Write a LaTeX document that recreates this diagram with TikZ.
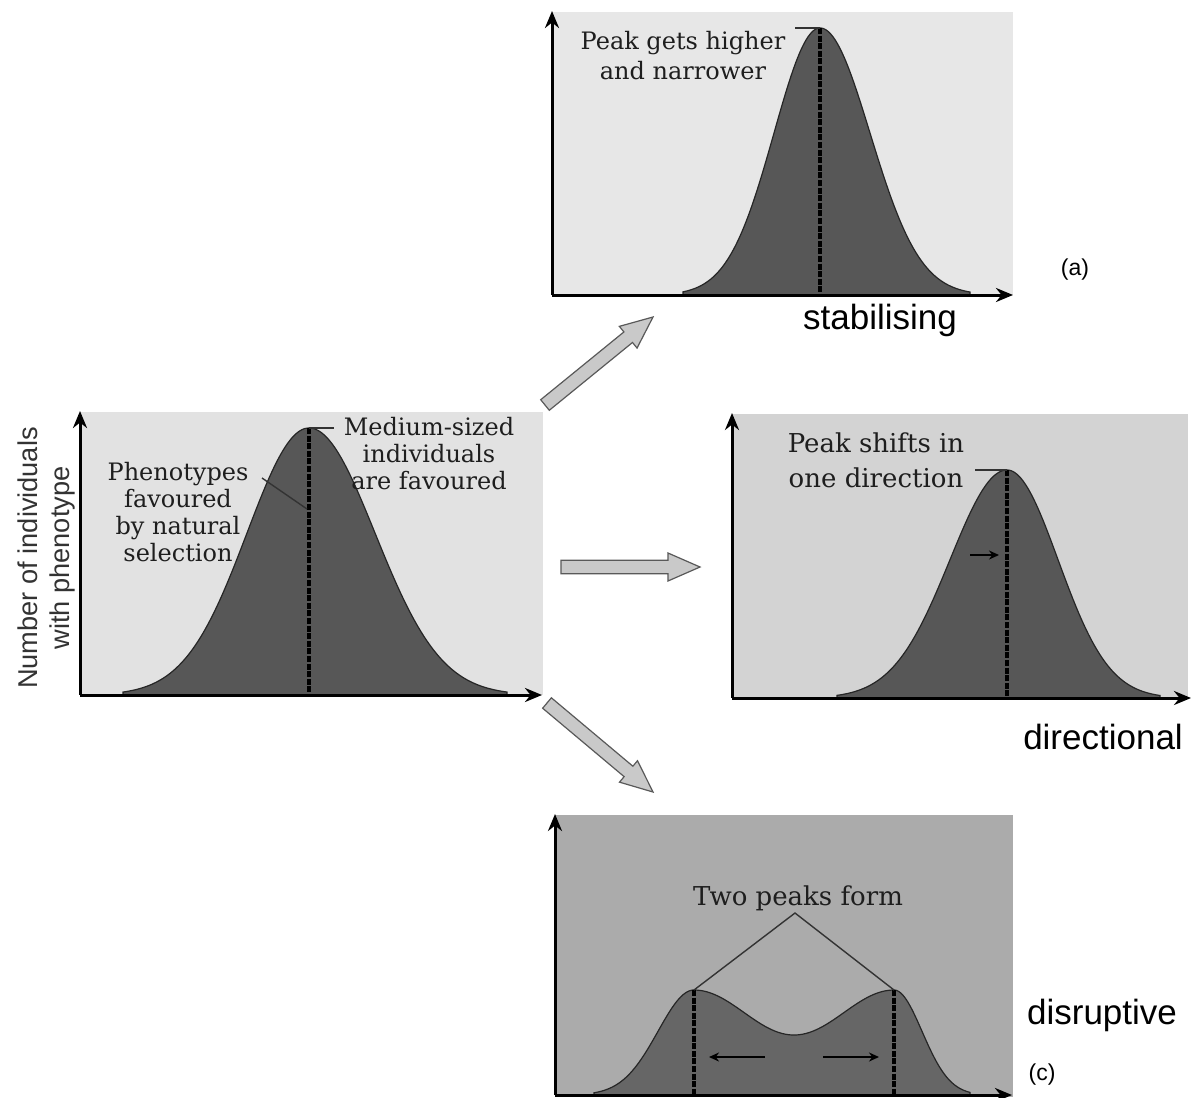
\documentclass[tikz,border=0pt]{standalone}
\usepackage{fontspec}
\setmainfont{DejaVu Serif}
\setsansfont{Liberation Sans}
\usetikzlibrary{calc,arrows.meta}
\definecolor{bgA}{HTML}{E7E7E7}
\definecolor{bgL}{HTML}{E2E2E2}
\definecolor{bgR}{HTML}{D3D3D3}
\definecolor{bgC}{HTML}{ABABAB}
\definecolor{crvA}{HTML}{575757}
\definecolor{crvC}{HTML}{666666}
\definecolor{arrowgray}{HTML}{C9C9C9}
\definecolor{txtgray}{HTML}{1E1E1E}
\newcommand\blockarr[3]{%
  \coordinate (#3) at ($(#2)!16pt!(#1)$);
  \draw[blockfill] ($(#1)!3.4pt!90:(#2)$) -- ($(#3)!3.4pt!90:(#2)$) -- ($(#3)!7pt!90:(#2)$) -- (#2)
    -- ($(#3)!7pt!-90:(#2)$) -- ($(#3)!3.4pt!-90:(#2)$) -- ($(#1)!3.4pt!-90:(#2)$) -- cycle;}
\begin{document}
\begin{tikzpicture}[x=0.5pt,y=-0.5pt,
  axis/.style={line width=1.5pt,-{Stealth[length=8.5pt,width=7pt]}},
  curve/.style={draw=black!85,line width=0.6pt},
  peakline/.style={line width=1.6pt,dash pattern=on 3pt off 0.8pt},
  leader/.style={line width=0.7pt,draw=black!80},
  seriflbl/.style={font=\fontsize{12}{13.5}\selectfont,text=txtgray,align=center,inner sep=0pt},
  sanslbl/.style={font=\sffamily\fontsize{17.5}{20}\selectfont,inner sep=0pt},
  smalllbl/.style={font=\sffamily\fontsize{11.5}{13}\selectfont,inner sep=0pt},
  blockfill/.style={fill=arrowgray,draw=black!65,line width=0.6pt},
  smallarrow/.style={line width=1pt,-{Stealth[length=5pt,width=4.5pt]}}]
\useasboundingbox (0,0) rectangle (1192,1097);
\fill[white] (0,0) rectangle (1192,1097);

% ---------- left (initial) panel ----------
\fill[bgL] (80,412) rectangle (543,695);
\fill[crvA,curve] (123,695) -- plot[domain=123:309,samples=80] (\x,{695-267*exp(-0.5*((\x-309)/62)^2)})
  -- plot[domain=309:507,samples=80] (\x,{695-267*exp(-0.5*((\x-309)/66)^2)}) -- (507,695) -- cycle;
\coordinate (oL) at (80,695);
\coordinate (yL) at (80,411);
\coordinate (xL) at (542,695);
\coordinate (pkL) at (309,428);
\coordinate (bL) at (309,695);
\draw[peakline] (pkL) -- (bL);
\draw[axis] (oL) -- (yL);
\draw[axis] (oL) -- (xL);
\node[seriflbl] (medium) at (429,454) {Medium-sized\\individuals\\are favoured};
\coordinate (ldL1) at (334,428);
\draw[leader] (pkL) -- (ldL1);
\node[seriflbl] (pheno) at (178,512) {Phenotypes\\favoured\\by natural\\selection};
\coordinate (ldL2a) at (262,478);
\coordinate (ldL2b) at (307,509);
\draw[leader] (ldL2a) -- (ldL2b);
\node[font=\sffamily\fontsize{13.6}{16}\selectfont,text=black!80,align=center,rotate=90,inner sep=0pt] (ylabel) at (46,558) {Number of individuals\\with phenotype};

% ---------- top panel (a) ----------
\fill[bgA] (552,12) rectangle (1013,295);
\fill[crvA,curve] (683,295) -- plot[domain=683:820,samples=80] (\x,{295-267*exp(-0.5*((\x-820)/46)^2)})
  -- plot[domain=820:970,samples=80] (\x,{295-267*exp(-0.5*((\x-820)/50)^2)}) -- (970,295) -- cycle;
\coordinate (oA) at (552,295);
\coordinate (yA) at (552,11);
\coordinate (xA) at (1013,295);
\coordinate (pkA) at (820,28);
\coordinate (bA) at (820,295);
\draw[peakline] (pkA) -- (bA);
\draw[axis] (oA) -- (yA);
\draw[axis] (oA) -- (xA);
\node[seriflbl,font=\fontsize{12}{15}\selectfont] (peakA) at (683,56) {Peak gets higher\\and narrower};
\coordinate (ldA) at (795,28);
\draw[leader] (ldA) -- (pkA);
\node[sanslbl] (stab) at (880,320) {stabilising};
\node[smalllbl] (labA) at (1075,270) {(a)};

% ---------- right panel (directional) ----------
\fill[bgR] (732,414) rectangle (1188,698);
\fill[crvA,curve] (837,698) -- plot[domain=837:1007,samples=80] (\x,{698-228*exp(-0.5*((\x-1007)/57)^2)})
  -- plot[domain=1007:1160,samples=80] (\x,{698-228*exp(-0.5*((\x-1007)/51)^2)}) -- (1160,698) -- cycle;
\coordinate (oR) at (732,698);
\coordinate (yR) at (732,413);
\coordinate (xR) at (1191,698);
\coordinate (pkR) at (1007,470);
\coordinate (bR) at (1007,698);
\draw[peakline] (pkR) -- (bR);
\draw[axis] (oR) -- (yR);
\draw[axis] (oR) -- (xR);
\node[seriflbl,font=\fontsize{13}{17.5}\selectfont] (peakR) at (876,460) {Peak shifts in\\one direction};
\coordinate (ldR) at (975,470);
\draw[leader] (ldR) -- (pkR);
\coordinate (shA) at (970,555);
\coordinate (shB) at (999,555);
\draw[smallarrow] (shA) -- (shB);
\node[sanslbl] (dirl) at (1103,737) {directional};

% ---------- bottom panel (c) ----------
\fill[bgC] (555,815) rectangle (1013,1097);
\fill[crvC,curve] (594,1095) -- plot[domain=594:694,samples=60] (\x,{1095-105*exp(-0.5*((\x-694)/36)^2)})
  -- plot[domain=694:894,samples=80] (\x,{990+22.5*(1-cos(1.8*(\x-694)))})
  -- plot[domain=894:970,samples=60] (\x,{1095-105*exp(-0.5*((\x-894)/28)^2)}) -- (970,1095) -- cycle;
\coordinate (oC) at (555,1095);
\coordinate (yC) at (555,814);
\coordinate (xC) at (1012,1095);
\coordinate (pkC1) at (694,990);
\coordinate (pkC2) at (894,990);
\coordinate (bC1) at (694,1097);
\coordinate (bC2) at (894,1097);
\draw[peakline] (pkC1) -- (bC1);
\draw[peakline] (pkC2) -- (bC2);
\draw[axis] (oC) -- (yC);
\draw[axis] (oC) -- (xC);
\node[seriflbl,font=\fontsize{13}{15}\selectfont] (twop) at (798,898) {Two peaks form};
\coordinate (apex) at (795,913);
\draw[leader] (pkC1) -- (apex) -- (pkC2);
\coordinate (lfA) at (765,1057);
\coordinate (lfB) at (709,1057);
\coordinate (rtA) at (823,1057);
\coordinate (rtB) at (879,1057);
\draw[smallarrow] (lfA) -- (lfB);
\draw[smallarrow] (rtA) -- (rtB);
\node[sanslbl] (disr) at (1102,1015) {disruptive};
\node[smalllbl] (labC) at (1042,1075) {(c)};

% ---------- block arrows ----------
\coordinate (t1) at (545,405);
\coordinate (p1) at (653,317);
\coordinate (t2) at (561,567);
\coordinate (p2) at (700,567);
\coordinate (t3) at (547,703);
\coordinate (p3) at (653,792);
\blockarr{t1}{p1}{n1}
\blockarr{t2}{p2}{n2}
\blockarr{t3}{p3}{n3}
\end{tikzpicture}
\end{document}
